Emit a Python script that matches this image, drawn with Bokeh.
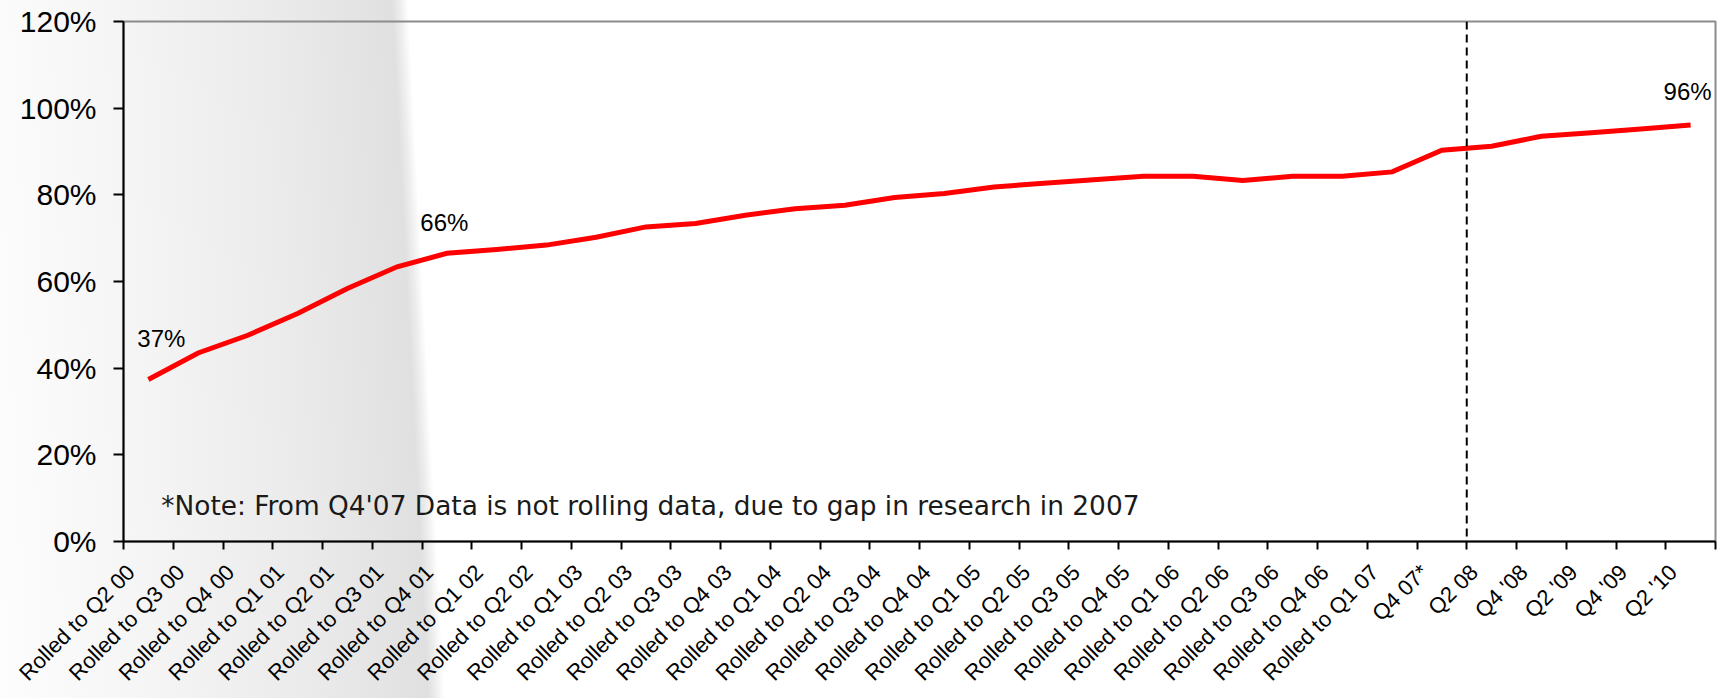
from bokeh.plotting import figure
from bokeh.models import (Range1d, FixedTicker, CustomJSTickFormatter,
                          PrintfTickFormatter, Span, Label)
from bokeh.embed import file_html
from bokeh.resources import INLINE
import math

# ---------------- data ----------------
categories = [
    "Rolled to Q2 00", "Rolled to Q3 00", "Rolled to Q4 00", "Rolled to Q1 01",
    "Rolled to Q2 01", "Rolled to Q3 01", "Rolled to Q4 01", "Rolled to Q1 02",
    "Rolled to Q2 02", "Rolled to Q1 03", "Rolled to Q2 03", "Rolled to Q3 03",
    "Rolled to Q4 03", "Rolled to Q1 04", "Rolled to Q2 04", "Rolled to Q3 04",
    "Rolled to Q4 04", "Rolled to Q1 05", "Rolled to Q2 05", "Rolled to Q3 05",
    "Rolled to Q4 05", "Rolled to Q1 06", "Rolled to Q2 06", "Rolled to Q3 06",
    "Rolled to Q4 06", "Rolled to Q1 07", "Q4 07*", "Q2 08",
    "Q4 '08", "Q2 '09", "Q4 '09", "Q2 '10",
]
adoption = [
    37.4, 43.5, 47.6, 52.6, 58.4, 63.4, 66.5, 67.4,
    68.4, 70.2, 72.6, 73.4, 75.3, 76.8, 77.6, 79.4,
    80.3, 81.8, 82.7, 83.5, 84.3, 84.3, 83.3, 84.3,
    84.3, 85.3, 90.3, 91.2, 93.5, 94.3, 95.2, 96.1,
]
annotated_categories = ["Rolled to Q2 00", "Rolled to Q4 01", "Q2 '10"]
annotated_texts = ["37%", "66%", "96%"]
y_ticks = [0, 20, 40, 60, 80, 100, 120]
split_category = "Q2 08"
note_text = "*Note: From Q4'07 Data is not rolling data, due to gap in research in 2007"

# ---------------- figure ----------------
n = len(categories)
xs = [i + 0.5 for i in range(n)]
label_pos = [i + 0.15 for i in range(n)]   # where the rotated labels are anchored

p = figure(width=1718, height=698,
           x_range=Range1d(0, n), y_range=Range1d(0, 120),
           output_backend="svg", toolbar_location=None,
           min_border_left=123, min_border_right=3,
           min_border_top=21, min_border_bottom=157)

p.border_fill_color = None
p.background_fill_color = None
p.styles = {
    "background": ("linear-gradient(87deg, #fdfdfd 0px, #f5f5f5 150px, "
                   "#ebebeb 305px, #e3e3e3 398px, #e0e0e0 428px, "
                   "#eeeeee 436px, #ffffff 444px, #ffffff 100%)")
}
p.outline_line_color = "#8c8c8c"
p.outline_line_width = 2
p.xgrid.visible = False
p.ygrid.visible = False

# x axis: labels near category centres, tick marks at category boundaries
xa = p.xaxis[0]
xa.ticker = FixedTicker(ticks=label_pos, minor_ticks=list(range(n + 1)))
xa.formatter = CustomJSTickFormatter(args=dict(labels=categories),
                                     code="const i = Math.floor(tick); return (labels[i] !== undefined) ? labels[i] : '';")
xa.major_label_orientation = math.pi / 4
xa.major_tick_line_color = None
xa.major_tick_out = 0
xa.major_tick_in = 0
xa.minor_tick_line_color = "black"
xa.minor_tick_line_width = 2
xa.minor_tick_out = 8
xa.minor_tick_in = 0
xa.axis_line_color = "black"
xa.axis_line_width = 2
xa.major_label_text_font = "Liberation Sans"
xa.major_label_text_font_size = "22px"
xa.major_label_text_color = "black"
xa.major_label_standoff = 19

ya = p.yaxis[0]
ya.ticker = FixedTicker(ticks=y_ticks, minor_ticks=[])
ya.formatter = PrintfTickFormatter(format="%d%%")
ya.major_tick_line_color = "black"
ya.major_tick_line_width = 2
ya.major_tick_out = 10
ya.major_tick_in = 0
ya.minor_tick_line_color = None
ya.axis_line_color = "black"
ya.axis_line_width = 2
ya.major_label_text_font = "Liberation Sans"
ya.major_label_text_font_size = "30px"
ya.major_label_text_color = "black"
ya.major_label_standoff = 17

# separator between rolling and non-rolling data
p.add_layout(Span(location=categories.index(split_category), dimension="height",
                  line_color="black", line_width=2, line_dash="8 5"))

# main line
p.line(xs, adoption, line_color="#ff0000", line_width=5, line_join="miter")

# value annotations
offsets = [(0.26, 9.5), (-0.05, 7.2), (-0.06, 7.7)]
for cat, txt, (dx, dy) in zip(annotated_categories, annotated_texts, offsets):
    i = categories.index(cat)
    p.add_layout(Label(x=xs[i] + dx, y=adoption[i] + dy, text=txt,
                       text_font="Liberation Sans", text_font_size="24px",
                       text_color="black", text_align="center",
                       text_baseline="alphabetic"))

# note
p.add_layout(Label(x=0.76, y=8.2, text=note_text,
                   text_font="DejaVu Sans", text_font_size="26.4px",
                   text_color="#1a1a1a", text_align="left",
                   text_baseline="alphabetic"))

open("out.html", "w").write(file_html(p, INLINE))
